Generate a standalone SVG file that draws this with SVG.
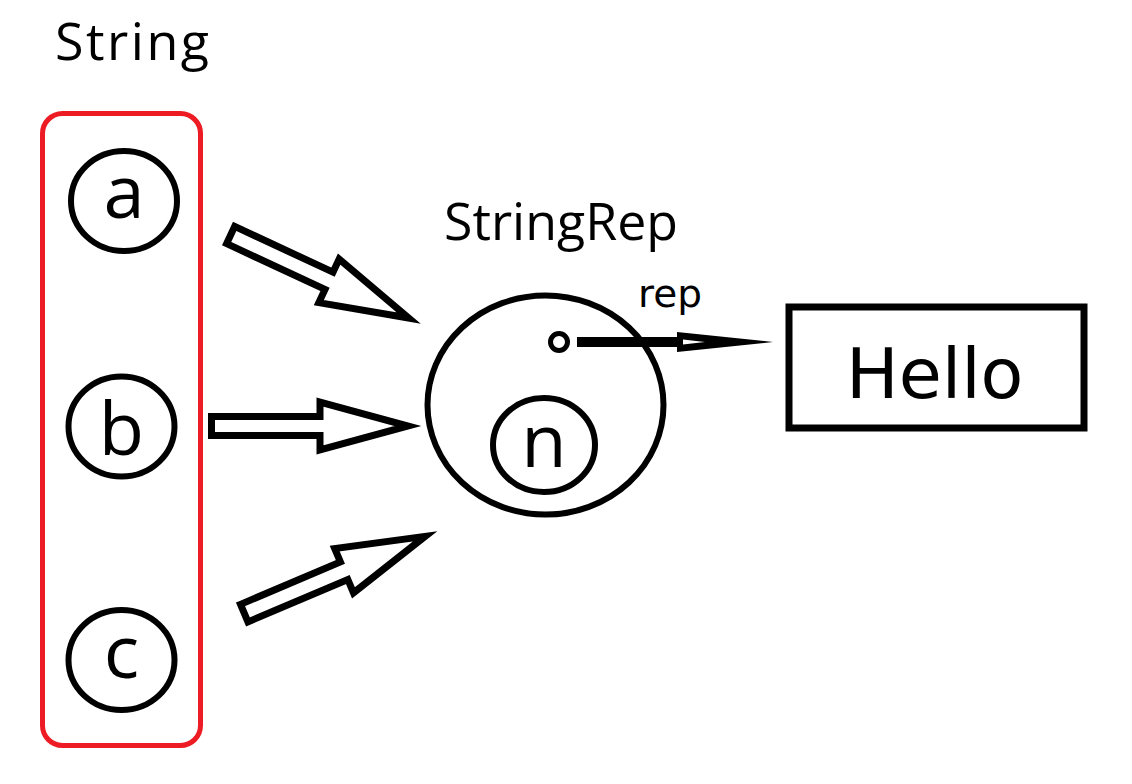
<svg xmlns="http://www.w3.org/2000/svg" width="1132" height="784" viewBox="0 0 1132 784">
<style>
.node{fill:#fff;stroke:#000;stroke-width:6}
.lbl{font-family:"Open Sans","Liberation Sans",sans-serif;fill:#000}
.dv{font-family:"DejaVu Sans","Liberation Sans",sans-serif;fill:#000}
.blk{fill:#fff;stroke:#000;stroke-width:7;stroke-miterlimit:10;stroke-linejoin:miter}
</style>
<defs>
<polygon id="blockArrow" points="3.5,-9.5 112,-9.5 112,-24 200,0 112,24 112,9.5 3.5,9.5"/>
</defs>
<rect width="1132" height="784" fill="#fff"/>
<g id="String">
<rect x="42.5" y="113.5" width="158" height="632" rx="20" ry="20" fill="none" stroke="#ed1c24" stroke-width="5"/>
<text class="lbl" x="55" y="60" font-size="52" textLength="154" lengthAdjust="spacing">String</text>
</g>
<g id="a">
<ellipse class="node" cx="124" cy="201" rx="53" ry="50"/>
<text class="lbl" x="124" y="218" font-size="74" text-anchor="middle">a</text>
</g>
<g id="b">
<ellipse class="node" cx="121.5" cy="426.5" rx="53" ry="50"/>
<text class="lbl" x="121.5" y="455" font-size="74" text-anchor="middle">b</text>
</g>
<g id="c">
<ellipse class="node" cx="121.5" cy="660" rx="53" ry="50"/>
<text class="lbl" x="121.5" y="678" font-size="74" text-anchor="middle">c</text>
</g>
<g id="StringRep">
<text class="lbl" x="444" y="240" font-size="52" textLength="234" lengthAdjust="spacingAndGlyphs">StringRep</text>
<ellipse class="node" cx="545.5" cy="405" rx="118" ry="109.5" stroke-width="7"/>
</g>
<g id="n">
<ellipse class="node" cx="544" cy="445" rx="51" ry="47"/>
<text class="lbl" x="544" y="467" font-size="74" text-anchor="middle">n</text>
</g>
<g id="Hello">
<rect x="789" y="307" width="295" height="121" fill="#fff" stroke="#000" stroke-width="7"/>
<text class="dv" x="846" y="398" font-size="70">Hello</text>
</g>
<g id="connectors">
<use href="#blockArrow" class="blk" transform="translate(227.5,233.5) rotate(25)"/>
<use href="#blockArrow" class="blk" transform="translate(208,426)"/>
<use href="#blockArrow" class="blk" transform="translate(241,614.5) rotate(-23)"/>
<circle cx="559" cy="342" r="8.5" fill="#fff" stroke="#000" stroke-width="5"/>
<line x1="577" y1="342" x2="680" y2="342" stroke="#000" stroke-width="10"/>
<polygon points="677,332 773,342 677,352" fill="#000"/>
<polygon points="683,339.5 705,342 683,344.5" fill="#fff"/>
<text class="dv" x="638" y="307" font-size="39">rep</text>
</g>
</svg>
